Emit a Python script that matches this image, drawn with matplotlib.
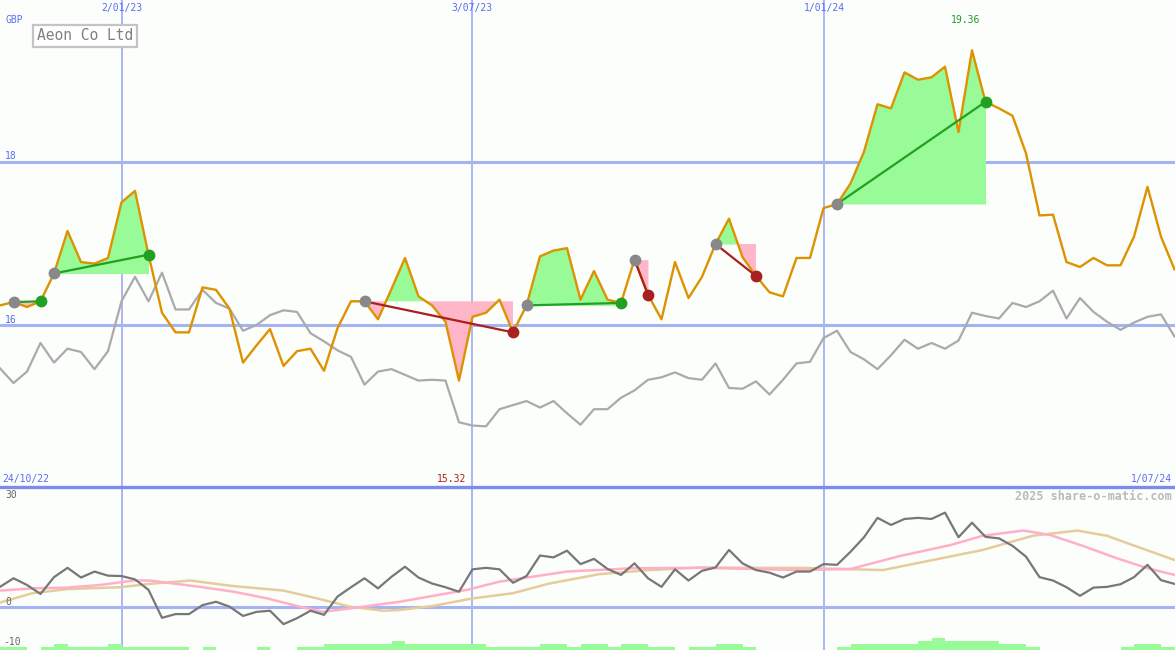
import matplotlib
matplotlib.use("Agg")
from matplotlib import pyplot as plt
from matplotlib.lines import Line2D
import numpy as np

# weekly closes, Aeon Co Ltd (GBP)
price = [16.24, 16.28, 16.22, 16.29, 16.63, 17.15, 16.77, 16.75, 16.82, 17.50,
         17.64, 16.86, 16.15, 15.91, 15.91, 16.46, 16.43, 16.20, 15.54, 15.75,
         15.95, 15.50, 15.68, 15.71, 15.44, 15.96, 16.29, 16.29, 16.07, 16.44,
         16.82, 16.35, 16.24, 16.04, 15.32, 16.10, 16.15, 16.31, 15.91, 16.24,
         16.84, 16.91, 16.94, 16.31, 16.66, 16.31, 16.27, 16.80, 16.37, 16.07,
         16.77, 16.33, 16.59, 16.99, 17.30, 16.83, 16.60, 16.40, 16.35, 16.82,
         16.82, 17.43, 17.48, 17.73, 18.12, 18.70, 18.65, 19.09, 19.00, 19.03,
         19.16, 18.36, 19.36, 18.73, 18.65, 18.56, 18.10, 17.34, 17.35, 16.77,
         16.71, 16.82, 16.73, 16.73, 17.08, 17.69, 17.08, 16.68]

# comparison index, rebased onto the price scale
index_line = [15.47, 15.29, 15.43, 15.78, 15.54, 15.71, 15.67, 15.46, 15.68, 16.29,
              16.59, 16.29, 16.64, 16.19, 16.19, 16.43, 16.27, 16.20, 15.93, 16.00,
              16.12, 16.18, 16.16, 15.90, 15.80, 15.69, 15.61, 15.27, 15.43, 15.46,
              15.39, 15.32, 15.33, 15.32, 14.81, 14.77, 14.76, 14.97, 15.02, 15.07,
              14.99, 15.07, 14.92, 14.78, 14.97, 14.97, 15.11, 15.20, 15.33, 15.36,
              15.42, 15.35, 15.33, 15.53, 15.23, 15.22, 15.31, 15.15, 15.33, 15.53,
              15.55, 15.84, 15.93, 15.67, 15.58, 15.46, 15.63, 15.82, 15.71, 15.78,
              15.71, 15.81, 16.15, 16.11, 16.08, 16.27, 16.22, 16.29, 16.42, 16.08,
              16.33, 16.16, 16.04, 15.94, 16.03, 16.10, 16.13, 15.86]

momentum = [5.4, 7.7, 5.9, 3.5, 8.0, 10.5, 7.9, 9.5, 8.4, 8.3,
            7.4, 4.6, -2.9, -1.9, -1.9, 0.5, 1.4, 0.1, -2.4, -1.3,
            -1.0, -4.6, -3.0, -1.0, -2.1, 2.8, 5.3, 7.7, 5.0, 8.1,
            10.8, 7.9, 6.3, 5.3, 4.1, 10.1, 10.5, 10.1, 6.5, 8.3,
            13.8, 13.3, 15.1, 11.5, 12.9, 10.2, 8.6, 11.7, 7.7, 5.4,
            10.1, 7.1, 9.7, 10.6, 15.3, 11.7, 9.9, 9.2, 7.9, 9.5,
            9.5, 11.5, 11.3, 14.8, 18.7, 23.9, 22.0, 23.6, 23.9, 23.6,
            25.3, 18.7, 22.6, 18.8, 18.4, 16.4, 13.5, 8.0, 7.1, 5.3,
            3.0, 5.2, 5.4, 6.1, 8.0, 11.3, 7.2, 6.2]

# smoothed averages, read at a subset of weeks
fast_wk = [0, 2.5, 5, 7.4, 9.9, 11.1, 14.8, 17.3, 19.8, 22.2,
           23.9, 25.9, 29.6, 34.6, 37.0, 42.0, 46.9, 51.9, 59.3, 63.0,
           66.7, 70.4, 72.8, 75.8, 77.8, 80.2, 82.7, 85.0, 87.0]
fast_ma = [4.4, 5.0, 5.2, 5.9, 7.1, 7.1, 5.4, 4.1, 2.3, 0.1,
           -1.3, -0.4, 1.4, 4.6, 6.8, 9.5, 10.4, 10.5, 9.9, 10.2,
           13.7, 16.6, 19.1, 20.5, 19.3, 16.4, 13.1, 10.4, 8.6]
slow_wk = [0, 2.4, 5.0, 8.9, 11.1, 14.1, 17.3, 21.0, 23.5, 25.9,
           28.4, 29.6, 32.1, 35.0, 38.0, 40.7, 44.4, 48.1, 51.9, 56.8,
           59.3, 65.4, 69.1, 72.8, 76.5, 79.8, 82.0, 83.9, 87.0]
slow_ma = [1.2, 3.7, 4.8, 5.3, 6.2, 7.1, 5.6, 4.4, 2.3, 0.1,
           -1.0, -0.8, 0.3, 2.3, 3.7, 6.3, 8.8, 9.9, 10.6, 10.5,
           10.5, 9.9, 12.6, 15.3, 19.1, 20.5, 19.1, 16.6, 12.6]

volume = [1, 1, 0, 1, 2, 1, 1, 1, 2, 1,
          1, 1, 1, 1, 0, 1, 0, 0, 0, 1,
          0, 0, 1, 1, 2, 2, 2, 2, 2, 3,
          2, 2, 2, 2, 2, 2, 1, 1, 1, 1,
          2, 2, 1, 2, 2, 1, 2, 2, 1, 1,
          0, 1, 1, 2, 2, 1, 0, 0, 0, 0,
          0, 0, 1, 2, 2, 2, 2, 2, 3, 4,
          3, 3, 3, 3, 2, 2, 1, 0, 0, 0,
          0, 0, 0, 1, 2, 2, 1]

# trades: entry week -> exit week
entries = [1, 4, 27, 39, 47, 53, 62]
exits = [3, 11, 38, 46, 48, 56, 73]

date_labels = ["2/01/23", "3/07/23", "1/01/24"]
date_wk = [9.04, 34.96, 61.04]

W, H = 1175, 650
bg = "#fcfefc"
grid_c = "#a6b3f2"
blue_txt = "#5b6cf0"
mono = "DejaVu Sans Mono"

fig = plt.figure(figsize=(W / 100, H / 100), dpi=100, facecolor=bg)
ax = fig.add_axes([0, 163 / H, 1, 487 / H])
axb = fig.add_axes([0, 0, 1, 163 / H])
for a in (ax, axb):
    a.set_facecolor(bg)
    a.set_xlim(0, W / 13.5)
    for s in a.spines.values():
        s.set_visible(False)
    a.set_xticks([])
    a.set_yticks([])

ax.set_ylim(16 - 162 / 81.75, 16 + 325 / 81.75)
axb.set_ylim(-43 / 3.73, 120 / 3.73)

wk = np.arange(len(price))
p = np.array(price)

# grid
for v in (16, 18):
    ax.axhline(v, color=grid_c, lw=2.2, zorder=1)
axb.axhline(0, color=grid_c, lw=2.2, zorder=1)
for d in date_wk:
    ax.axvline(d, color="#aab6f5", lw=1.4, zorder=1)
    axb.axvline(d, color="#aab6f5", lw=1.4, zorder=1)

# trade shading
for a, b in zip(entries, exits):
    xs = wk[a:b + 1]
    ys = p[a:b + 1]
    lvl = p[a]
    ax.fill_between(xs, ys, lvl, where=ys >= lvl, interpolate=True,
                    color="#98fb98", lw=0, zorder=2)
    ax.fill_between(xs, ys, lvl, where=ys <= lvl, interpolate=True,
                    color="#ffb6c8", lw=0, zorder=2)

ax.plot(wk, index_line, color="#aaaaaa", lw=1.6, zorder=3)
ax.plot(wk, price, color="#dd9200", lw=1.7, zorder=4)

for a, b in zip(entries, exits):
    win = p[b] > p[a]
    c = "#22a022" if win else "#a82020"
    ax.plot([a, b], [p[a], p[b]], color=c, lw=1.6, zorder=5)
    ax.plot(a, p[a], "o", color="#888888", ms=8.5, mec="none", zorder=6)
    ax.plot(b, p[b], "o", color=c, ms=8.5, mec="none", zorder=6)

# lower panel
axv = axb.twinx()
axv.set_ylim(0, 163 / 3)
axv.set_axis_off()
axv.bar(np.arange(len(volume)), volume, width=1.0, align="edge",
        color="#98fb98", lw=0, zorder=1)
axb.plot(slow_wk, slow_ma, color="#e5cc9c", lw=1.8, zorder=3)
axb.plot(fast_wk, fast_ma, color="#ffb0c8", lw=1.8, zorder=3)
axb.plot(wk, momentum, color="#777777", lw=1.6, zorder=4)

# separator
fig.add_artist(Line2D([0, 1], [1 - 487 / H] * 2, color="#7b8bee", lw=2.4))


def px(x, y, s, **kw):
    kw.setdefault("family", mono)
    kw.setdefault("fontsize", 7)
    fig.text(x / W, 1 - y / H, s, **kw)


for d, lab in zip(date_wk, date_labels):
    px(d * 13.5, 8, lab, color=blue_txt, ha="center", va="center")
px(5, 20, "GBP", color=blue_txt, va="center")
px(5, 156, "18", color=blue_txt, va="center")
px(5, 320, "16", color=blue_txt, va="center")
px(2, 479, "24/10/22", color=blue_txt, va="center")
px(1172, 479, "1/07/24", color=blue_txt, ha="right", va="center")
px(int(np.argmax(p)) * 13.5 - 6, 20, "%.2f" % p.max(), color="#229922",
   ha="center", va="center")
px(int(np.argmin(p)) * 13.5 - 7, 479, "%.2f" % p.min(), color="#a82020",
   ha="center", va="center")
px(5, 495, "30", color="#666666", va="center")
px(5, 602, "0", color="#666666", va="center")
px(3, 642, "-10", color="#666666", va="center")
px(1172, 496, "2025 share-o-matic.com", color="#bbbbbb", ha="right",
   va="center", fontsize=8.5, fontweight="bold")
px(85, 36, "Aeon Co Ltd", color="#808080", ha="center", va="center",
   fontsize=10.5,
   bbox=dict(boxstyle="square,pad=0.25", fc="white", ec="#c4c4c4", lw=1.6))

fig.savefig("out.png", dpi=100, facecolor=bg)
